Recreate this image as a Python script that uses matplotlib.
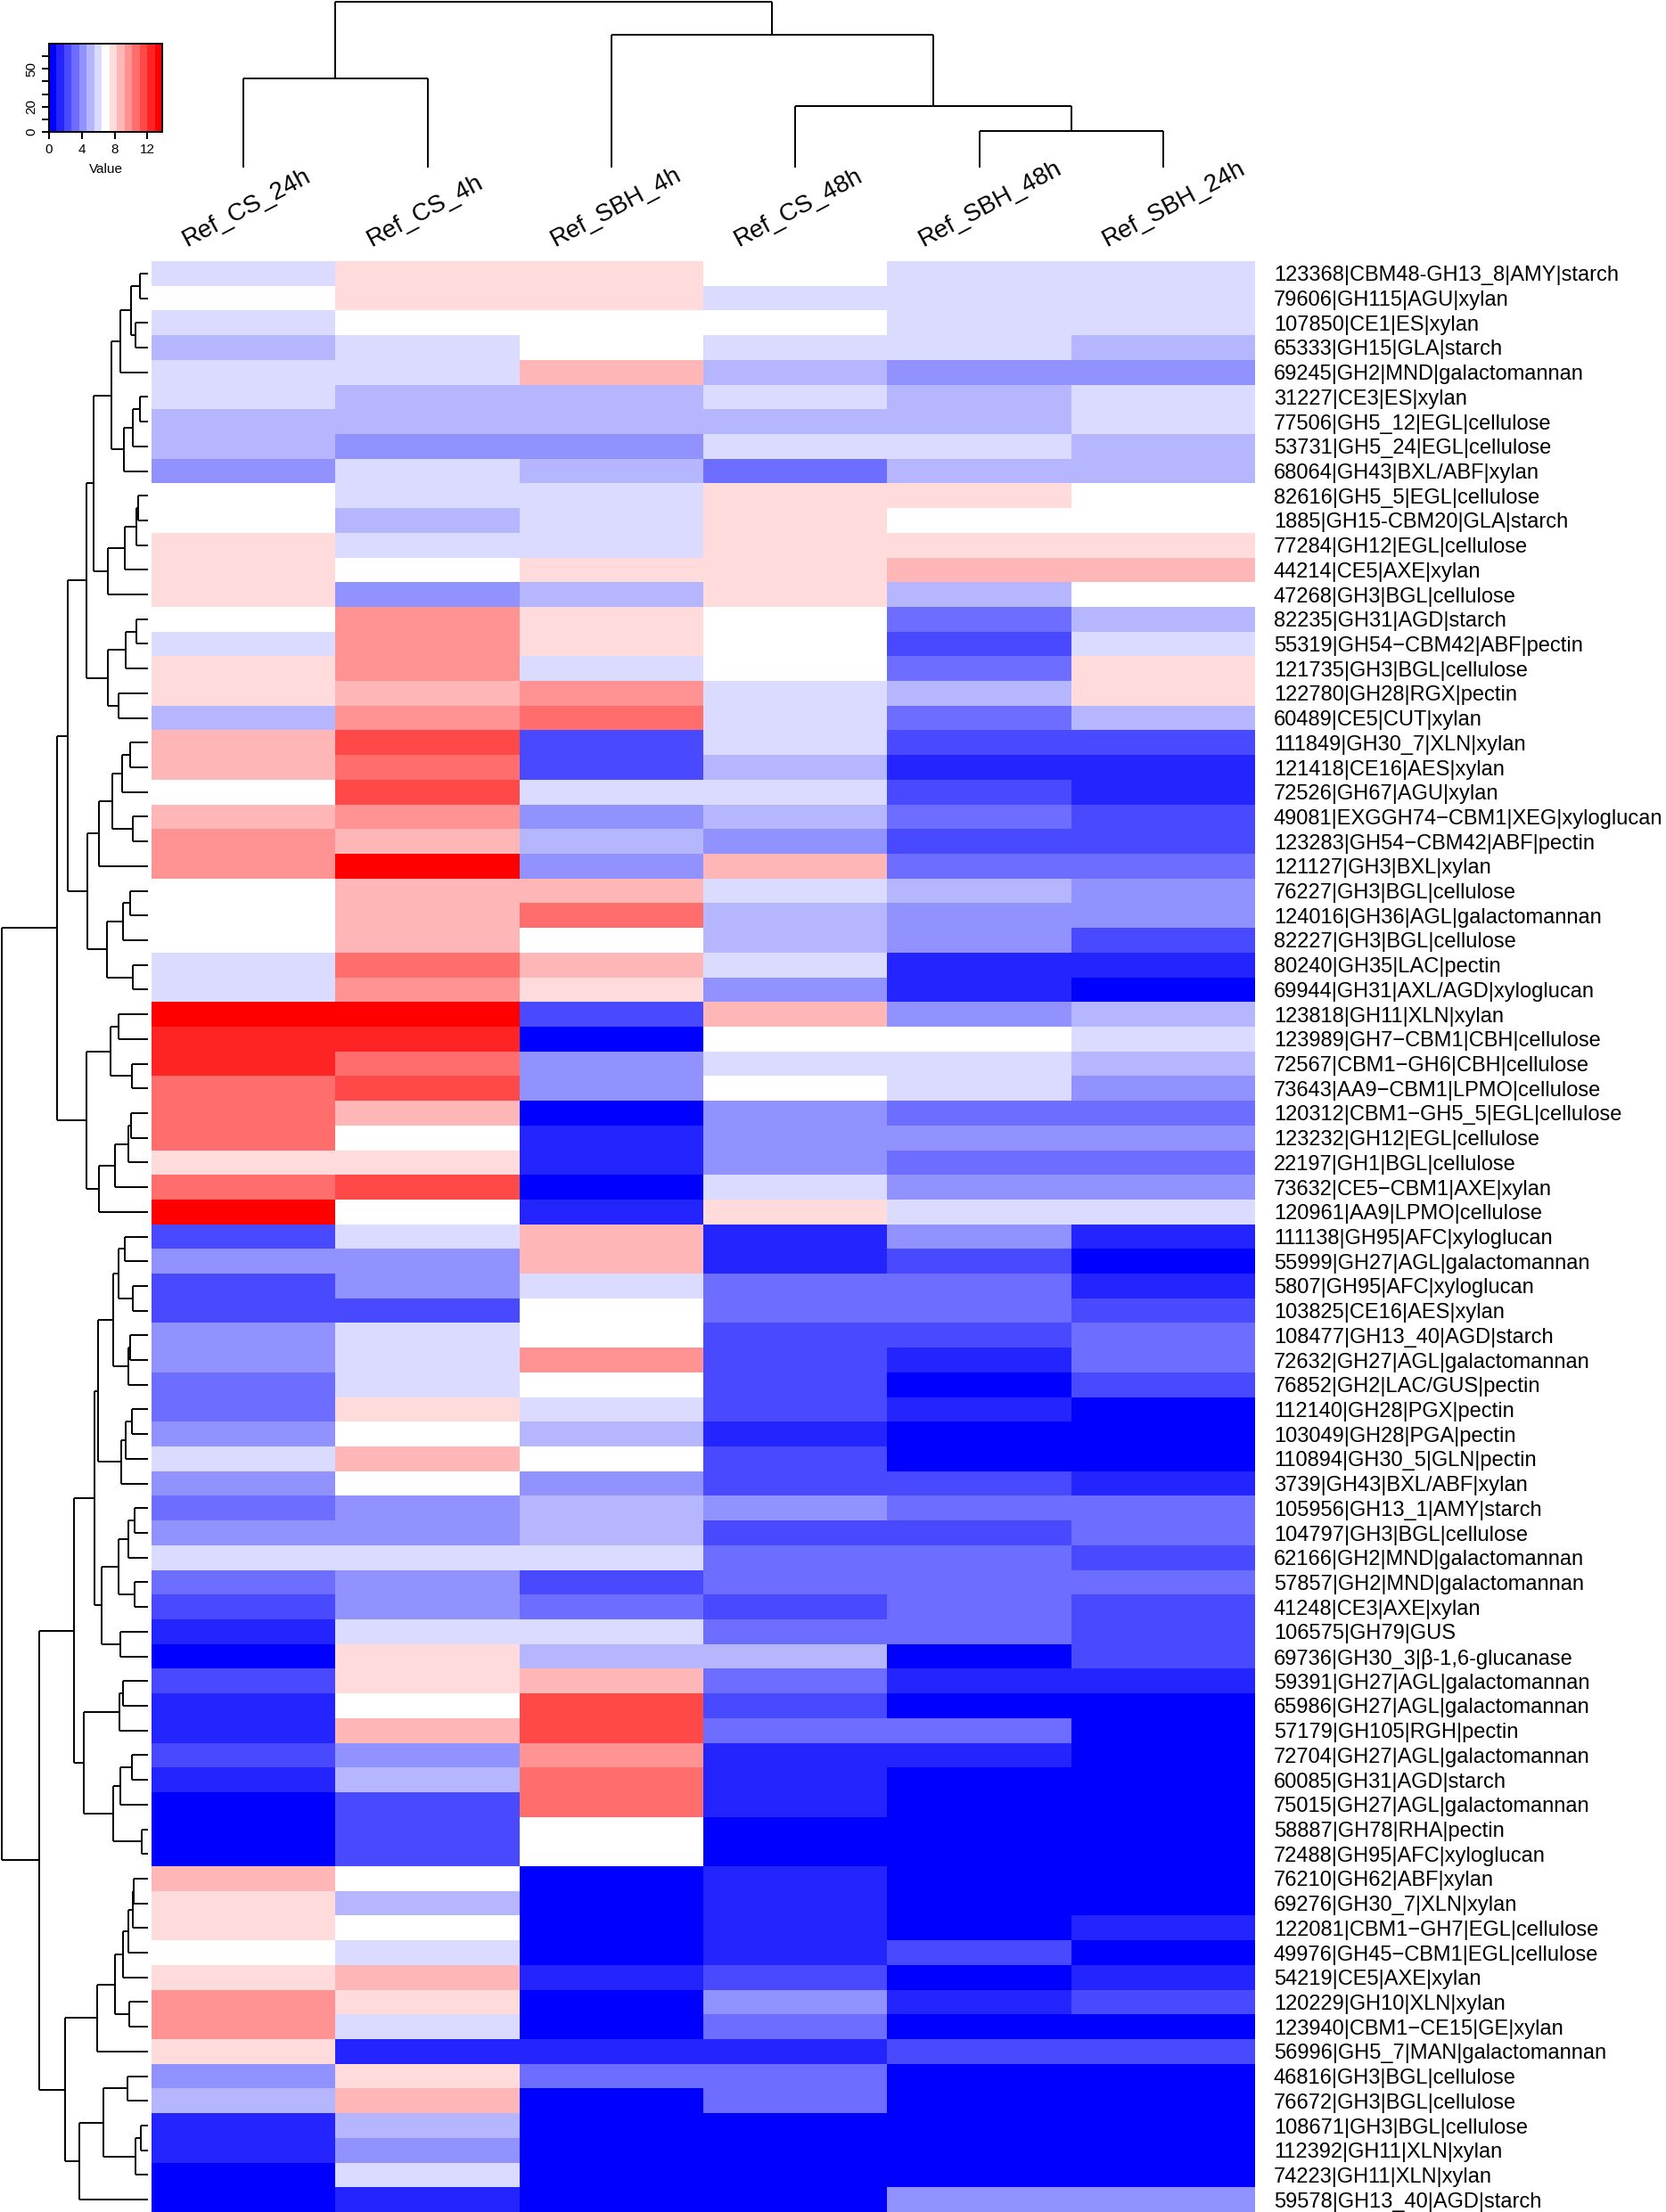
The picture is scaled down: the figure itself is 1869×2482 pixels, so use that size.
import numpy as np
import matplotlib
matplotlib.use('Agg')
import matplotlib.pyplot as plt
from matplotlib.colors import LinearSegmentedColormap, BoundaryNorm
from matplotlib.collections import LineCollection
from matplotlib.transforms import blended_transform_factory

plt.rcParams['font.family'] = ['Liberation Sans', 'DejaVu Sans']

# column labels (order as drawn)
samples = ['Ref_CS_24h', 'Ref_CS_4h', 'Ref_SBH_4h', 'Ref_CS_48h', 'Ref_SBH_48h', 'Ref_SBH_24h']

# row labels (top to bottom)
genes = [
    '123368|CBM48-GH13_8|AMY|starch', '79606|GH115|AGU|xylan', '107850|CE1|ES|xylan',
    '65333|GH15|GLA|starch', '69245|GH2|MND|galactomannan', '31227|CE3|ES|xylan',
    '77506|GH5_12|EGL|cellulose', '53731|GH5_24|EGL|cellulose', '68064|GH43|BXL/ABF|xylan',
    '82616|GH5_5|EGL|cellulose', '1885|GH15-CBM20|GLA|starch', '77284|GH12|EGL|cellulose',
    '44214|CE5|AXE|xylan', '47268|GH3|BGL|cellulose', '82235|GH31|AGD|starch',
    '55319|GH54\u2212CBM42|ABF|pectin', '121735|GH3|BGL|cellulose', '122780|GH28|RGX|pectin',
    '60489|CE5|CUT|xylan', '111849|GH30_7|XLN|xylan', '121418|CE16|AES|xylan',
    '72526|GH67|AGU|xylan', '49081|EXGGH74\u2212CBM1|XEG|xyloglucan', '123283|GH54\u2212CBM42|ABF|pectin',
    '121127|GH3|BXL|xylan', '76227|GH3|BGL|cellulose', '124016|GH36|AGL|galactomannan',
    '82227|GH3|BGL|cellulose', '80240|GH35|LAC|pectin', '69944|GH31|AXL/AGD|xyloglucan',
    '123818|GH11|XLN|xylan', '123989|GH7\u2212CBM1|CBH|cellulose', '72567|CBM1\u2212GH6|CBH|cellulose',
    '73643|AA9\u2212CBM1|LPMO|cellulose', '120312|CBM1\u2212GH5_5|EGL|cellulose', '123232|GH12|EGL|cellulose',
    '22197|GH1|BGL|cellulose', '73632|CE5\u2212CBM1|AXE|xylan', '120961|AA9|LPMO|cellulose',
    '111138|GH95|AFC|xyloglucan', '55999|GH27|AGL|galactomannan', '5807|GH95|AFC|xyloglucan',
    '103825|CE16|AES|xylan', '108477|GH13_40|AGD|starch', '72632|GH27|AGL|galactomannan',
    '76852|GH2|LAC/GUS|pectin', '112140|GH28|PGX|pectin', '103049|GH28|PGA|pectin',
    '110894|GH30_5|GLN|pectin', '3739|GH43|BXL/ABF|xylan', '105956|GH13_1|AMY|starch',
    '104797|GH3|BGL|cellulose', '62166|GH2|MND|galactomannan', '57857|GH2|MND|galactomannan',
    '41248|CE3|AXE|xylan', '106575|GH79|GUS', '69736|GH30_3|\u03b2-1,6-glucanase',
    '59391|GH27|AGL|galactomannan', '65986|GH27|AGL|galactomannan', '57179|GH105|RGH|pectin',
    '72704|GH27|AGL|galactomannan', '60085|GH31|AGD|starch', '75015|GH27|AGL|galactomannan',
    '58887|GH78|RHA|pectin', '72488|GH95|AFC|xyloglucan', '76210|GH62|ABF|xylan',
    '69276|GH30_7|XLN|xylan', '122081|CBM1\u2212GH7|EGL|cellulose', '49976|GH45\u2212CBM1|EGL|cellulose',
    '54219|CE5|AXE|xylan', '120229|GH10|XLN|xylan', '123940|CBM1\u2212CE15|GE|xylan',
    '56996|GH5_7|MAN|galactomannan', '46816|GH3|BGL|cellulose', '76672|GH3|BGL|cellulose',
    '108671|GH3|BGL|cellulose', '112392|GH11|XLN|xylan', '74223|GH11|XLN|xylan',
    '59578|GH13_40|AGD|starch',
]

# colour bin (0..14) read for each cell, same row/column order as above
levels = np.array([
    [6, 8, 8, 7, 6, 6], [7, 8, 8, 6, 6, 6], [6, 7, 7, 7, 6, 6], [5, 6, 7, 6, 6, 5],
    [6, 6, 9, 5, 4, 4], [6, 5, 5, 6, 5, 6], [5, 5, 5, 5, 5, 6], [5, 4, 4, 6, 6, 5],
    [4, 6, 5, 3, 5, 5], [7, 6, 6, 8, 8, 7], [7, 5, 6, 8, 7, 7], [8, 6, 6, 8, 8, 8],
    [8, 7, 8, 8, 9, 9], [8, 4, 5, 8, 5, 7], [7, 10, 8, 7, 3, 5], [6, 10, 8, 7, 2, 6],
    [8, 10, 6, 7, 3, 8], [8, 9, 10, 6, 5, 8], [5, 10, 11, 6, 3, 5], [9, 12, 2, 6, 2, 2],
    [9, 11, 2, 5, 1, 1], [7, 12, 6, 6, 2, 1], [9, 10, 4, 5, 3, 2], [10, 9, 5, 4, 2, 2],
    [10, 14, 4, 9, 3, 3], [7, 9, 9, 6, 5, 4], [7, 9, 11, 5, 4, 4], [7, 9, 7, 5, 4, 2],
    [6, 11, 9, 6, 1, 1], [6, 10, 8, 4, 1, 0], [14, 14, 2, 9, 4, 5], [13, 13, 0, 7, 7, 6],
    [13, 11, 4, 6, 6, 5], [11, 12, 4, 7, 6, 4], [11, 9, 0, 4, 3, 3], [11, 7, 1, 4, 4, 4],
    [8, 8, 1, 4, 3, 3], [11, 12, 0, 6, 4, 4], [14, 7, 1, 8, 6, 6], [2, 6, 9, 1, 4, 1],
    [4, 4, 9, 1, 2, 0], [2, 4, 6, 3, 3, 1], [2, 2, 7, 3, 3, 2], [4, 6, 7, 2, 2, 3],
    [4, 6, 10, 2, 1, 3], [3, 6, 7, 2, 0, 2], [3, 8, 6, 2, 1, 0], [4, 7, 5, 1, 0, 0],
    [6, 9, 7, 2, 0, 0], [4, 7, 4, 2, 2, 1], [3, 4, 5, 4, 3, 3], [4, 4, 5, 2, 2, 3],
    [6, 6, 6, 3, 3, 2], [3, 4, 2, 3, 3, 3], [2, 4, 3, 2, 3, 2], [1, 6, 6, 3, 3, 2],
    [0, 8, 5, 5, 0, 2], [2, 8, 9, 3, 1, 1], [1, 7, 12, 2, 0, 0], [1, 9, 12, 3, 3, 0],
    [2, 4, 10, 1, 1, 0], [1, 5, 11, 1, 0, 0], [0, 2, 11, 1, 0, 0], [0, 2, 7, 0, 0, 0],
    [0, 2, 7, 0, 0, 0], [9, 7, 0, 1, 0, 0], [8, 5, 0, 1, 0, 0], [8, 7, 0, 1, 0, 1],
    [7, 6, 0, 1, 2, 0], [8, 9, 1, 2, 0, 1], [10, 8, 0, 4, 1, 2], [10, 6, 0, 3, 0, 0],
    [8, 1, 1, 1, 2, 2], [4, 8, 3, 3, 0, 0], [5, 9, 0, 3, 0, 0], [1, 5, 0, 0, 0, 0],
    [1, 4, 0, 0, 0, 0], [0, 6, 0, 0, 0, 0], [0, 1, 0, 0, 4, 4],
])

VMAX = 13.8
NBINS = 15
breaks = np.linspace(0, VMAX, NBINS + 1)
values = (levels + 0.5) * VMAX / NBINS

# dendrograms: (height, left, right), leaves are row/column indices
row_tree = (492,
    (304,
        (269,
            (207,
                (183,
                    (122,
                        (92, (57, (27, 0, 1), (40, 2, 3)), 4),
                        (80, (49, (27, 5, 6), 7), 8)),
                    (134, (77, (37, (32, 9, 10), 11), 12), 13)),
                (134, (75, (37, 14, 15), 16), (99, 17, 18))),
            (204,
                (165, (119, (86, (60, 19, 20), 21), (49, 22, 23)), 24),
                (137, (83, (60, 25, 26), 27), (49, 28, 29)))),
        (207,
            (125, (97, 30, 31), (52, 32, 33)),
            (165, (109, (65, (57, 34, 35), 36), 37), 38))),
    (364,
        (247,
            (178,
                (168,
                    (116, (99, (77, 39, 40), (50, 41, 42)), (65, (60, 43, 44), 45)),
                    (89, (75, (53, 46, 47), 48), 49)),
                (155, (98, (64, (44, 50, 51), 52), (44, 53, 54)), (91, 55, 56))),
            (214,
                (96, (83, 57, 58), 59),
                (117, (91, (52, 60, 61), 62), (19, 63, 64)))),
        (277,
            (169, (109, (83, (65, (50, (47, 65, 66), 67), 68), 69), (61, 70, 71)), 72),
            (229, (148, (69, 73, 74), (40, (22, 75, 76), 77)), 78))))

col_tree = (186, (100, 0, 1), (149, 2, (69, 3, (41, 4, 5))))


def dendro_segments(node, segs):
    if isinstance(node, int):
        return node + 0.5, 0.0
    h, a, b = node
    pa, ha = dendro_segments(a, segs)
    pb, hb = dendro_segments(b, segs)
    segs.append([(ha, pa), (h, pa)])
    segs.append([(hb, pb), (h, pb)])
    segs.append([(h, pa), (h, pb)])
    return (pa + pb) / 2, h


W, H = 1869, 2482
fig = plt.figure(figsize=(W / 100, H / 100), dpi=100)

nrow, ncol = levels.shape
cmap = LinearSegmentedColormap.from_list('bwr15', ['blue', 'white', 'red'], N=NBINS)
norm = BoundaryNorm(breaks, NBINS)

# heatmap
hx0, hx1, hy0, hy1 = 170, 1408, 293, 2482
ax = fig.add_axes([hx0 / W, 1 - hy1 / H, (hx1 - hx0) / W, (hy1 - hy0) / H])
ax.pcolormesh(np.arange(ncol + 1), np.arange(nrow + 1), values, cmap=cmap, norm=norm,
              antialiased=False, edgecolors='none')
ax.set_xlim(0, ncol)
ax.set_ylim(nrow, 0)
for s in ax.spines.values():
    s.set_visible(False)
ax.set_xticks([])
ax.yaxis.tick_right()
ax.set_yticks(np.arange(nrow) + 0.5)
ax.set_yticklabels(genes, fontsize=17)
ax.tick_params(axis='y', length=0, pad=15)

# column labels
tr = blended_transform_factory(ax.transData, fig.transFigure)
col_w = (hx1 - hx0) / ncol
for i, name in enumerate(samples):
    ax.text(i + 0.5 - 60 / col_w, 1 - 282 / H, name, transform=tr, rotation=28,
            rotation_mode='anchor', ha='left', va='bottom', fontsize=20)

# row dendrogram
segs = []
dendro_segments(row_tree, segs)
axr = fig.add_axes([1.7 / W, 1 - hy1 / H, (165.7 - 1.7) / W, (hy1 - hy0) / H])
axr.add_collection(LineCollection(segs, colors='black', linewidths=1.4, clip_on=False,
                                  capstyle='butt'))
axr.set_xlim(row_tree[0], 0)
axr.set_ylim(nrow, 0)
axr.axis('off')

# column dendrogram
segs = []
dendro_segments(col_tree, segs)
segs = [[(p, h) for h, p in s] for s in segs]
axc = fig.add_axes([hx0 / W, 1 - 188.3 / H, (hx1 - hx0) / W, (188.3 - 1.7) / H])
axc.add_collection(LineCollection(segs, colors='black', linewidths=1.4, clip_on=False,
                                  capstyle='butt'))
axc.set_xlim(0, ncol)
axc.set_ylim(0, col_tree[0])
axc.axis('off')

# colour key
axk = fig.add_axes([55 / W, 1 - 148 / H, 127 / W, 99 / H])
axk.pcolormesh(breaks, [0, 70], ((breaks[:-1] + breaks[1:]) / 2)[None, :], cmap=cmap,
               norm=norm, antialiased=False, edgecolors='none')
axk.set_xlim(0, VMAX)
axk.set_ylim(0, 70)
axk.set_xticks([0, 4, 8, 12])
axk.set_yticks(np.arange(0, 70, 10))
axk.set_yticklabels(['0', '', '20', '', '', '50', ''], rotation=90, va='center')
axk.tick_params(labelsize=11, length=6, width=1.4, pad=3)
for s in axk.spines.values():
    s.set_linewidth(1.4)
axk.set_xlabel('Value', fontsize=11, labelpad=6)

fig.savefig('out.png', dpi=100)
